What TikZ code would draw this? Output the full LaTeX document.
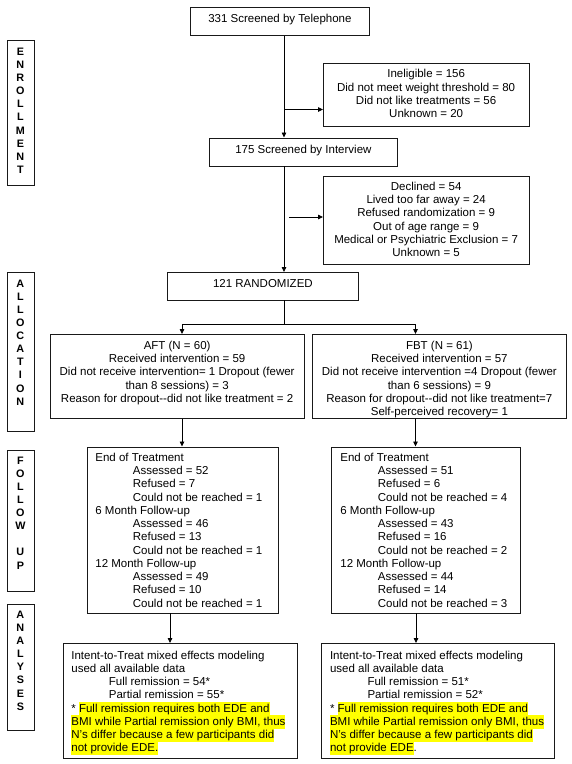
\documentclass[tikz,border=0pt]{standalone}
\usepackage{fontspec}
\setmainfont{Liberation Sans}
\usetikzlibrary{arrows.meta}
\definecolor{hlyellow}{HTML}{FFFF00}
\newcommand{\mf}{\fontsize{11.5}{13.25}\selectfont}
\newcommand{\vf}{\fontsize{10.8}{13.1}\selectfont\bfseries}
\newcommand{\hly}[1]{{\setlength{\fboxsep}{0pt}\colorbox{hlyellow}{\rule[-3.3pt]{0pt}{13.25pt}#1}}}
\newcommand{\ind}{\hspace*{37.5pt}}
\begin{document}
\begin{tikzpicture}[x=1pt,y=-1pt,
  bx/.style={draw=black!90, line width=0.8pt, inner sep=0pt, anchor=north west},
  arr/.style={line width=0.8pt, -{Triangle[length=5pt,width=4.5pt]}},
  ln/.style={line width=0.8pt}]
\useasboundingbox (0,0) rectangle (571,764);
% side labels
\node[bx] (enr) at (6.5,39.5) {\parbox[c][145pt][t]{27pt}{\vf\centering\rule{0pt}{15.5pt}E\\N\\R\\O\\L\\L\\M\\E\\N\\T}};
\node[bx] (alc) at (6.5,272) {\parbox[c][158.5pt][t]{27pt}{\vf\centering\rule{0pt}{14.8pt}A\\L\\L\\O\\C\\A\\T\\I\\O\\N}};
\node[bx] (fol) at (6.5,450) {\parbox[c][141pt][t]{27pt}{\vf\centering\rule{0pt}{13.8pt}F\\O\\L\\L\\O\\W\\~\\U\\P}};
\node[bx] (ana) at (6.5,603.5) {\parbox[c][126pt][t]{27pt}{\vf\centering\rule{0pt}{14.5pt}A\\N\\A\\L\\Y\\S\\E\\S}};
% main boxes
\node[bx] (tel) at (190,6.5) {\parbox[c][28.5pt][t]{179pt}{\mf\centering\rule{0pt}{15.7pt}331 Screened by Telephone}};
\node[bx] (inel) at (323,63.3) {\parbox[c][62.2pt][t]{205.5pt}{\mf\centering\rule{0pt}{14.1pt}Ineligible = 156\\Did not meet weight threshold = 80\\Did not like treatments = 56\\Unknown = 20}};
\node[bx] (int) at (209,137.5) {\parbox[c][28pt][t]{188pt}{\mf\centering\rule{0pt}{15.5pt}175 Screened by Interview}};
\node[bx] (decl) at (323,176) {\parbox[c][88pt][t]{205.5pt}{\mf\centering\rule{0pt}{14pt}Declined = 54\\Lived too far away = 24\\Refused randomization = 9\\Out of age range = 9\\Medical or Psychiatric Exclusion = 7\\Unknown = 5}};
\node[bx] (rand) at (167,272) {\parbox[c][27.5pt][t]{191pt}{\mf\centering\rule{0pt}{15.5pt}121 RANDOMIZED}};
\node[bx] (aft) at (49.5,334) {\parbox[c][84pt][t]{254.5pt}{\mf\centering\rule{0pt}{15pt}AFT (N = 60)\\Received intervention = 59\\Did not receive intervention= 1 Dropout (fewer\\than 8 sessions) = 3\\Reason for dropout-{}-did not like treatment = 2}};
\node[bx] (fbt) at (312,334) {\parbox[c][84pt][t]{254pt}{\mf\centering\rule{0pt}{15pt}FBT (N = 61)\\Received intervention = 57\\Did not receive intervention =4 Dropout (fewer\\than 6 sessions) = 9\\Reason for dropout-{}-did not like treatment=7\\Self-perceived recovery= 1}};
\node[bx] (afu) at (86.5,446.5) {\parbox[c][166pt][t]{191.5pt}{\mf\raggedright\leftskip=8.5pt\rule{0pt}{14.5pt}End of Treatment\\\ind Assessed = 52\\\ind Refused = 7\\\ind Could not be reached = 1\\6 Month Follow-up\\\ind Assessed = 46\\\ind Refused = 13\\\ind Could not be reached = 1\\12 Month Follow-up\\\ind Assessed = 49\\\ind Refused = 10\\\ind Could not be reached = 1}};
\node[bx] (ffu) at (331,446.5) {\parbox[c][166pt][t]{188.5pt}{\mf\raggedright\leftskip=9pt\rule{0pt}{14.5pt}End of Treatment\\\ind Assessed = 51\\\ind Refused = 6\\\ind Could not be reached = 4\\6 Month Follow-up\\\ind Assessed = 43\\\ind Refused = 16\\\ind Could not be reached = 2\\12 Month Follow-up\\\ind Assessed = 44\\\ind Refused = 14\\\ind Could not be reached = 3}};
\node[bx] (aan) at (63,643) {\parbox[c][115pt][t]{234pt}{\mf\raggedright\leftskip=8pt\rule{0pt}{15.7pt}Intent-to-Treat mixed effects modeling\\used all available data\\\ind Full remission = 54*\\\ind Partial remission = 55*\\\relax * \hly{Full remission requires both EDE and}\\\hly{BMI while Partial remission only BMI, thus}\\\hly{N’s differ because a few participants did}\\\hly{not provide EDE.}}};
\node[bx] (fan) at (321,643) {\parbox[c][115pt][t]{233pt}{\mf\raggedright\leftskip=8.6pt\rule{0pt}{15.7pt}Intent-to-Treat mixed effects modeling\\used all available data\\\ind Full remission = 51*\\\ind Partial remission = 52*\\\relax * \hly{Full remission requires both EDE and}\\\hly{BMI while Partial remission only BMI, thus}\\\hly{N’s differ because a few participants did}\\\hly{not provide EDE}.}};
% connectors
\coordinate (mx) at (284,0);
\coordinate (j1) at (284,109.5);
\coordinate (j2) at (289,217);
\coordinate (br0) at (284,324.5);
\coordinate (bl) at (182,324.5);
\coordinate (brr) at (415.5,324.5);
\coordinate (al) at (170,0);
\coordinate (ar) at (416,0);
\draw[arr] (tel.south -| mx) -- (int.north -| mx);
\draw[arr] (j1) -- (j1 -| inel.west);
\draw[arr] (int.south -| mx) -- (rand.north -| mx);
\draw[arr] (j2) -- (j2 -| decl.west);
\draw[ln] (rand.south -| mx) -- (br0);
\draw[ln] (bl) -- (brr);
\draw[arr] (bl) -- (bl |- aft.north);
\draw[arr] (brr) -- (brr |- fbt.north);
\draw[arr] (aft.south -| bl) -- (afu.north -| bl);
\draw[arr] (fbt.south -| brr) -- (ffu.north -| brr);
\draw[arr] (afu.south -| al) -- (aan.north -| al);
\draw[arr] (ffu.south -| ar) -- (fan.north -| ar);
\end{tikzpicture}
\end{document}
